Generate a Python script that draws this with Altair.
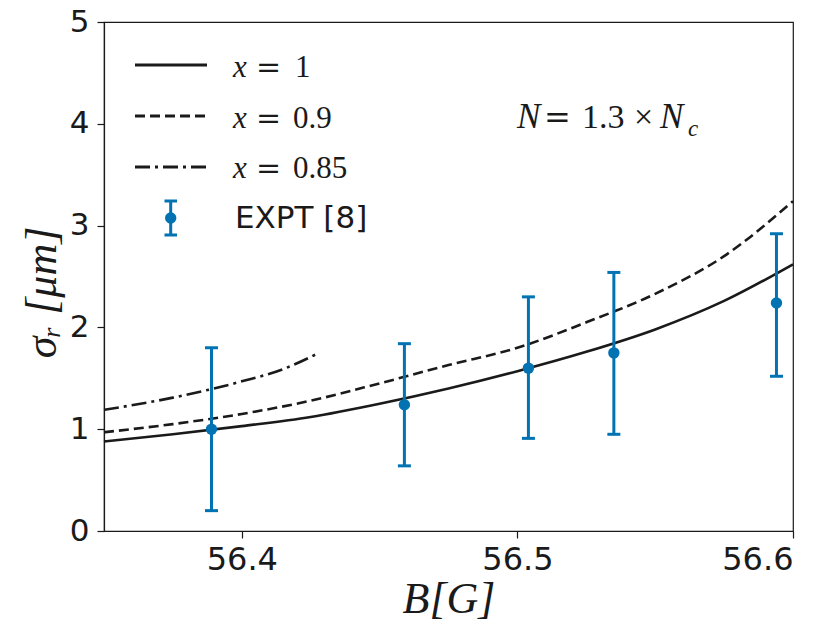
import altair as alt
import pandas as pd

# ---- data ----
B_expt = [56.389, 56.459, 56.504, 56.535, 56.594]
sigma_expt = [1.00, 1.24, 1.60, 1.75, 2.24]
sigma_lo = [0.20, 0.64, 0.91, 0.95, 1.52]
sigma_hi = [1.80, 1.84, 2.30, 2.54, 2.92]

B_grid = [56.35, 56.375, 56.40, 56.425, 56.45, 56.475, 56.50, 56.525, 56.55, 56.575, 56.60]
sigma_x1 = [0.88, 0.95, 1.03, 1.12, 1.25, 1.40, 1.57, 1.76, 1.98, 2.26, 2.62]
sigma_x09 = [0.97, 1.05, 1.15, 1.28, 1.45, 1.63, 1.80, 2.05, 2.33, 2.70, 3.24]
B_x085 = [56.35, 56.375, 56.40, 56.415, 56.428]
sigma_x085 = [1.19, 1.31, 1.47, 1.59, 1.75]

x_ticks = [56.4, 56.5, 56.6]
y_ticks = [0, 1, 2, 3, 4, 5]

BLUE = "#0173B2"
INK = "#1a1a1a"

expt = pd.DataFrame({"B": B_expt, "s": sigma_expt, "lo": sigma_lo, "hi": sigma_hi})
c1 = pd.DataFrame({"B": B_grid, "s": sigma_x1})
c09 = pd.DataFrame({"B": B_grid, "s": sigma_x09})
c085 = pd.DataFrame({"B": B_x085, "s": sigma_x085})
one = pd.DataFrame({"a": [0]})

xs = alt.Scale(domain=[56.35, 56.6], nice=False, zero=False)
ys = alt.Scale(domain=[0, 5], nice=False, zero=False)

xaxis = alt.Axis(values=x_ticks, format=".1f", title="B[G]",
                 titleFont="Liberation Serif", titleFontStyle="italic",
                 titleFontWeight="normal", titleFontSize=44, titleColor=INK,
                 titleBaseline="middle", titleY=68,
                 labelFont="DejaVu Sans", labelFontSize=32, labelColor=INK,
                 labelPadding=6, tickSize=7, tickColor=INK, tickWidth=1.2,
                 domainColor=INK, domainWidth=1.2, grid=False)
yaxis = alt.Axis(values=y_ticks, format="d", title="σᵣ [μm]",
                 titleFont="Liberation Serif", titleFontStyle="italic",
                 titleFontWeight="normal", titleFontSize=44, titleColor=INK,
                 titleAngle=270, titleAlign="center", titleBaseline="middle",
                 titleX=-62, titleY=270,
                 labelFont="DejaVu Sans", labelFontSize=31, labelColor=INK,
                 labelPadding=8, tickSize=7, tickColor=INK, tickWidth=1.2,
                 domainColor=INK, domainWidth=1.2, grid=False)

def curve(df, dash):
    m = alt.Chart(df).mark_line(color=INK, strokeWidth=2.6, interpolate="monotone",
                                **({"strokeDash": dash} if dash else {}))
    return m.encode(x=alt.X("B:Q", scale=xs, axis=xaxis), y=alt.Y("s:Q", scale=ys, axis=yaxis))

line1 = curve(c1, None)
line09 = curve(c09, [10, 5])
line085 = curve(c085, [15, 5, 3, 5])

bars = alt.Chart(expt).mark_rule(color=BLUE, strokeWidth=3).encode(
    x=alt.X("B:Q", scale=xs), y=alt.Y("lo:Q", scale=ys), y2="hi:Q")
cap_lo = alt.Chart(expt).mark_tick(color=BLUE, orient="horizontal", size=13, thickness=3, opacity=1).encode(
    x=alt.X("B:Q", scale=xs), y=alt.Y("lo:Q", scale=ys))
cap_hi = alt.Chart(expt).mark_tick(color=BLUE, orient="horizontal", size=13, thickness=3, opacity=1).encode(
    x=alt.X("B:Q", scale=xs), y=alt.Y("hi:Q", scale=ys))
pts = alt.Chart(expt).mark_circle(color=BLUE, size=130, opacity=1).encode(
    x=alt.X("B:Q", scale=xs), y=alt.Y("s:Q", scale=ys))

def txt(s, x, y, size, font="Liberation Serif", style="normal"):
    return alt.Chart(one).mark_text(text=s, font=font, fontSize=size, fontStyle=style,
                                    align="left", baseline="alphabetic", color=INK).encode(
        x=alt.value(x), y=alt.value(y))

def leg_line(y, dash):
    kw = {"strokeDash": dash} if dash else {}
    return alt.Chart(one).mark_rule(color=INK, strokeWidth=3, **kw).encode(
        x=alt.value(31), x2=alt.value(103), y=alt.value(y))

EQF = "DejaVu Serif"
legend = [
    leg_line(43, None), leg_line(94, [10, 5]), leg_line(145, [15, 5, 3, 5]),
    txt("x", 129, 55, 31, style="italic"), txt("=", 152, 55, 30, font=EQF), txt("1", 191, 55, 31),
    txt("x", 129, 106, 31, style="italic"), txt("=", 152, 106, 30, font=EQF), txt("0.9", 189, 106, 31),
    txt("x", 129, 156, 31, style="italic"), txt("=", 152, 156, 30, font=EQF), txt("0.85", 189, 156, 31),
    alt.Chart(one).mark_rule(color=BLUE, strokeWidth=3).encode(
        x=alt.value(66.7), y=alt.value(179), y2=alt.value(213)),
    alt.Chart(one).mark_rule(color=BLUE, strokeWidth=3).encode(
        x=alt.value(60.5), x2=alt.value(73), y=alt.value(179)),
    alt.Chart(one).mark_rule(color=BLUE, strokeWidth=3).encode(
        x=alt.value(60.5), x2=alt.value(73), y=alt.value(213)),
    alt.Chart(one).mark_circle(color=BLUE, size=130, opacity=1).encode(
        x=alt.value(66.7), y=alt.value(196)),
    txt("EXPT [8]", 131, 206, 31, font="DejaVu Sans"),
]

annot = [
    txt("N", 413, 106, 35, style="italic"),
    txt("=", 440, 106, 32, font=EQF),
    txt("1.3", 478, 106, 34),
    txt("×", 530, 106, 34),
    txt("N", 556, 106, 35, style="italic"),
    txt("c", 584, 114, 23, style="italic"),
]

chart = alt.layer(line1, line09, line085, bars, cap_lo, cap_hi, pts, *legend, *annot).properties(
    width=689, height=509,
    autosize=alt.AutoSizeParams(type="none"),
    padding={"left": 96, "top": 14, "right": 25, "bottom": 98},
).configure_view(stroke=INK, strokeWidth=1.2)

chart.save("out.html", embed_options={"renderer": "svg", "actions": False})
